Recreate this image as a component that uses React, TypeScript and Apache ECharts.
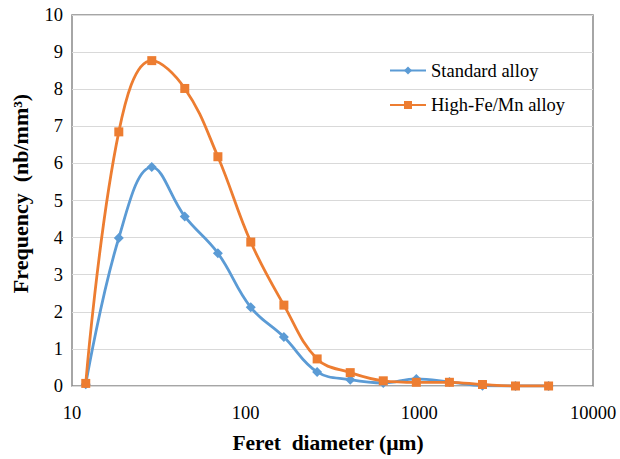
import React, { useEffect, useRef } from "react";
import * as echarts from "echarts";

const diameters = [12, 18.6, 28.8, 44.6, 69.2, 107, 166, 258, 400, 620, 961, 1490, 2310, 3580, 5550];
const standardAlloy = [0.05, 3.99, 5.9, 4.57, 3.58, 2.12, 1.32, 0.38, 0.17, 0.08, 0.19, 0.11, 0.01, 0.0, 0.0];
const highFeMnAlloy = [0.07, 6.85, 8.77, 8.02, 6.18, 3.88, 2.18, 0.73, 0.36, 0.14, 0.1, 0.1, 0.04, 0.0, 0.0];
const seriesNames = ["Standard alloy", "High-Fe/Mn alloy"];

const FONT = "'Times New Roman', 'Liberation Serif', 'DejaVu Serif', serif";

export default function App() {
  const ref = useRef<HTMLDivElement>(null);
  useEffect(() => {
    document.body.style.margin = "0";
    const chart = echarts.init(ref.current!, undefined, { renderer: "svg" });
    chart.setOption({
      animation: false,
      backgroundColor: "#fff",
      textStyle: { fontFamily: FONT },
      grid: {
        left: 72,
        right: 27,
        top: 15,
        bottom: 72,
        show: true,
        borderColor: "#898989",
        borderWidth: 1.5,
      },
      legend: {
        left: 389,
        top: 61,
        padding: 0,
        orient: "vertical",
        itemWidth: 36,
        itemHeight: 10,
        itemGap: 15.5,
        textStyle: { fontFamily: FONT, fontSize: 18.5, fontWeight: "normal", color: "#000" },
        data: seriesNames,
      },
      xAxis: {
        type: "log",
        logBase: 10,
        min: 10,
        max: 10000,
        name: "Feret  diameter (µm)",
        nameLocation: "middle",
        nameGap: 46,
        nameTextStyle: {
          fontFamily: FONT,
          fontSize: 21.5,
          fontWeight: "bold",
          color: "#000",
          padding: [0, 9, 0, 0],
        },
        axisLine: { show: false },
        axisTick: { show: false },
        splitLine: { show: false },
        minorTick: { show: false },
        axisLabel: {
          fontFamily: FONT,
          fontSize: 18.5,
          fontWeight: "normal",
          color: "#000",
          margin: 17,
          formatter: (v: number) => String(Math.round(v)),
        },
      },
      yAxis: {
        type: "value",
        min: 0,
        max: 10,
        interval: 1,
        name: "Frequency  (nb/mm³)",
        nameLocation: "middle",
        nameGap: 41,
        nameTextStyle: {
          fontFamily: FONT,
          fontSize: 22,
          fontWeight: "bold",
          color: "#000",
          padding: [0, 0, 0, 14],
        },
        axisLine: { show: false },
        axisTick: { show: false },
        splitLine: { lineStyle: { color: "#d9d9d9", width: 1.2 } },
        axisLabel: { fontFamily: FONT, fontSize: 18.5, fontWeight: "normal", color: "#000", margin: 9 },
      },
      series: [
        {
          name: seriesNames[0],
          type: "line",
          smooth: 0.4,
          symbol: "diamond",
          symbolSize: 10,
          data: diameters.map((d, i) => [d, standardAlloy[i]]),
          lineStyle: { color: "#5B9BD5", width: 2.8 },
          itemStyle: { color: "#5B9BD5" },
          z: 2,
        },
        {
          name: seriesNames[1],
          type: "line",
          smooth: 0.4,
          symbol: "rect",
          symbolSize: 9,
          data: diameters.map((d, i) => [d, highFeMnAlloy[i]]),
          lineStyle: { color: "#ED7D31", width: 2.8 },
          itemStyle: { color: "#ED7D31" },
          z: 3,
        },
      ],
    });
    return () => chart.dispose();
  }, []);
  return <div ref={ref} style={{ width: 620, height: 459 }} />;
}
